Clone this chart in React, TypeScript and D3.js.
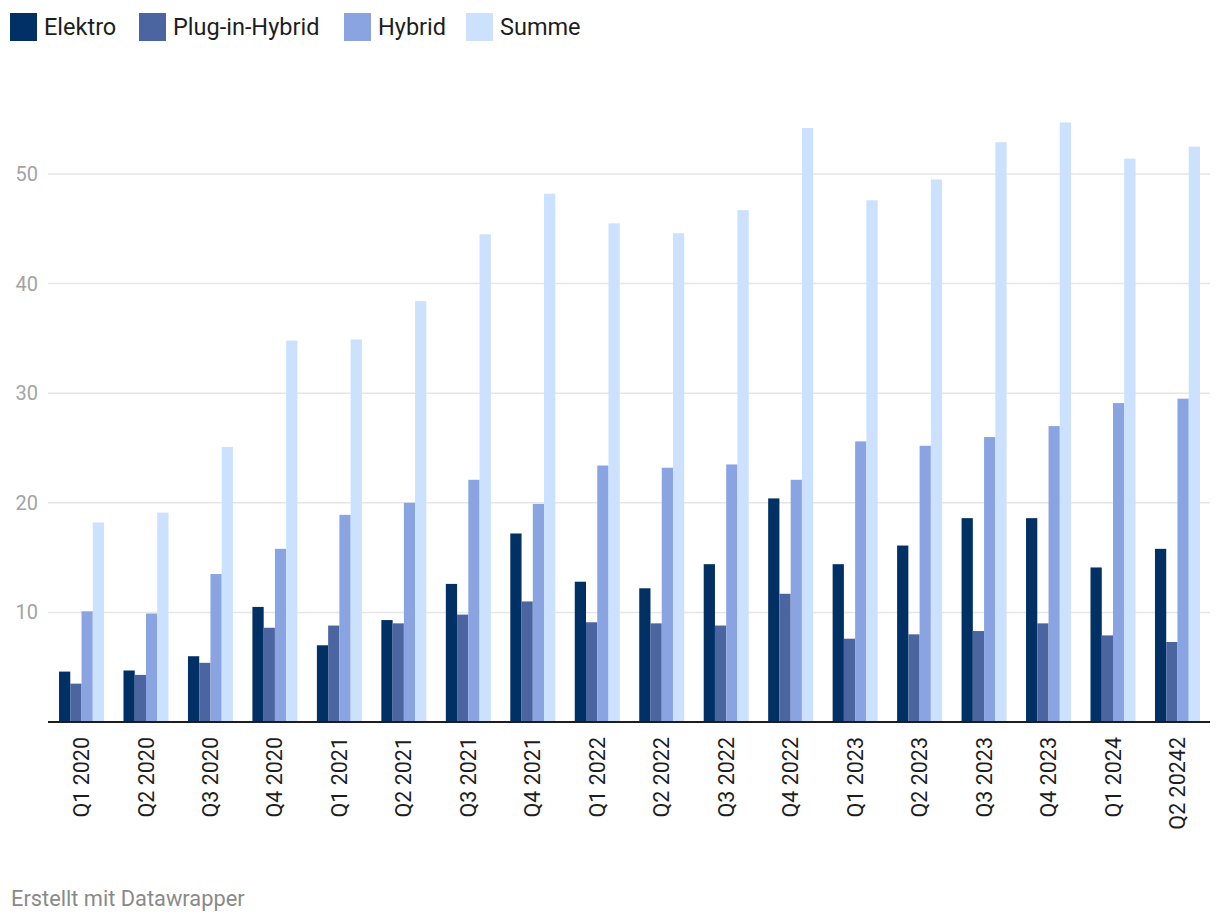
import React from "react";
import * as d3 from "d3";

// Quarter labels (as shown in the source, including the typo in the last one)
const quarters = [
  "Q1 2020", "Q2 2020", "Q3 2020", "Q4 2020",
  "Q1 2021", "Q2 2021", "Q3 2021", "Q4 2021",
  "Q1 2022", "Q2 2022", "Q3 2022", "Q4 2022",
  "Q1 2023", "Q2 2023", "Q3 2023", "Q4 2023",
  "Q1 2024", "Q2 20242",
];

const elektro = [4.6, 4.7, 6.0, 10.5, 7.0, 9.3, 12.6, 17.2, 12.8, 12.2, 14.4, 20.4, 14.4, 16.1, 18.6, 18.6, 14.1, 15.8];
const plugIn = [3.5, 4.3, 5.4, 8.6, 8.8, 9.0, 9.8, 11.0, 9.1, 9.0, 8.8, 11.7, 7.6, 8.0, 8.3, 9.0, 7.9, 7.3];
const hybrid = [10.1, 9.9, 13.5, 15.8, 18.9, 20.0, 22.1, 19.9, 23.4, 23.2, 23.5, 22.1, 25.6, 25.2, 26.0, 27.0, 29.1, 29.5];
const summe = [18.2, 19.1, 25.1, 34.8, 34.9, 38.4, 44.5, 48.2, 45.5, 44.6, 46.7, 54.2, 47.6, 49.5, 52.9, 54.7, 51.4, 52.5];

const seriesNames = ["Elektro", "Plug-in-Hybrid", "Hybrid", "Summe"];
const seriesValues = [elektro, plugIn, hybrid, summe];
const colors = ["#003064", "#4b65a0", "#8aa4e1", "#cbe1fe"];

const yTicks = [10, 20, 30, 40, 50];

const W = 1220;
const H = 922;
const margin = { top: 60, left: 48, right: 10, bottom: 200 };
const font = "Roboto, 'Noto Sans', sans-serif";

export default function App() {
  const x = d3
    .scaleBand<string>()
    .domain(quarters)
    .range([margin.left, 1211])
    .paddingInner(0.302)
    .paddingOuter(0.171);

  const inner = d3
    .scaleBand<string>()
    .domain(seriesNames)
    .range([0, x.bandwidth()])
    .padding(0);

  const y = d3.scaleLinear().domain([0, 50]).range([722, 174]);

  // legend layout
  const legendX = [10, 139, 344, 466];

  return (
    <svg
      width={W}
      height={H}
      style={{ position: "absolute", left: 0, top: 0, display: "block", background: "#fff" }}
      fontFamily={font}
    >
      {/* legend */}
      {seriesNames.map((name, i) => (
        <g key={name} transform={`translate(${legendX[i]},13)`}>
          <rect width={27} height={28} fill={colors[i]} />
          <text x={34} y={22} fontSize={23.5} fill="#1d1d1d">
            {name}
          </text>
        </g>
      ))}

      {/* grid + y ticks */}
      {yTicks.map((t) => (
        <g key={t}>
          <line x1={margin.left} x2={1210} y1={y(t)} y2={y(t)} stroke="#e6e6e6" strokeWidth={1.5} />
          <text x={38} y={y(t)} dy="0.35em" textAnchor="end" fontSize={20} fill="#a3a3a3">
            {t}
          </text>
        </g>
      ))}

      {/* bars */}
      {quarters.map((q, qi) => (
        <g key={q} transform={`translate(${x(q)},0)`}>
          {seriesNames.map((s, si) => {
            const v = seriesValues[si][qi];
            return (
              <rect
                key={s}
                x={inner(s)}
                width={inner.bandwidth()}
                y={y(v)}
                height={y(0) - y(v)}
                fill={colors[si]}
              />
            );
          })}
        </g>
      ))}

      {/* baseline */}
      <line x1={margin.left} x2={1210} y1={y(0)} y2={y(0)} stroke="#1d1d1d" strokeWidth={2} />

      {/* x labels */}
      {quarters.map((q) => {
        const cx = (x(q) ?? 0) + x.bandwidth() / 2;
        return (
          <text
            key={q}
            transform={`translate(${cx},737) rotate(-90)`}
            textAnchor="end"
            dy="0.35em"
            fontSize={21.5}
            fill="#1d1d1d"
          >
            {q}
          </text>
        );
      })}

      {/* footer */}
      <text x={11} y={906} fontSize={21.8} fill="#8a8a8a">
        Erstellt mit Datawrapper
      </text>
    </svg>
  );
}
